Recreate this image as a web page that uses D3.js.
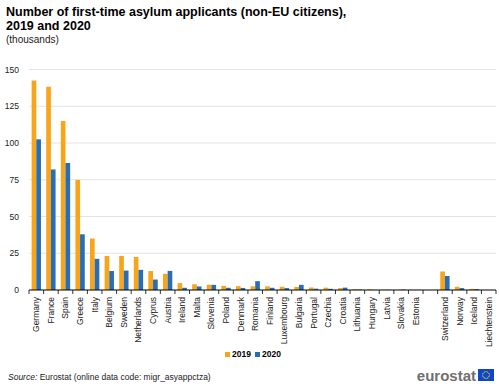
<!DOCTYPE html>
<html>
<head>
<meta charset="utf-8">
<script src="https://cdn.jsdelivr.net/npm/d3@7"></script>
<style>
  body { margin: 0; background: #fff; }
  svg { font-family: Arial, "Liberation Sans", sans-serif; }
</style>
</head>
<body>
<div id="chart"></div>
<script>
// Pays (vide = espace entre UE et AELE)
const countries = ["Germany", "France", "Spain", "Greece", "Italy", "Belgium", "Sweden", "Netherlands",
  "Cyprus", "Austria", "Ireland", "Malta", "Slovenia", "Poland", "Denmark", "Romania", "Finland",
  "Luxembourg", "Bulgaria", "Portugal", "Czechia", "Croatia", "Lithuania", "Hungary", "Latvia",
  "Slovakia", "Estonia", "", "Switzerland", "Norway", "Iceland", "Liechtenstein"];
const values2019 = [142.5, 138.3, 115.0, 74.9, 35.0, 23.1, 23.2, 22.5, 12.9, 11.0, 4.7, 3.9, 3.6, 2.8, 2.6,
  2.5, 2.5, 2.2, 2.1, 1.7, 1.6, 1.3, 0.6, 0.5, 0.2, 0.2, 0.1, null, 12.6, 2.2, 0.8, 0.05];
const values2020 = [102.5, 82.0, 86.4, 37.9, 21.2, 12.9, 13.2, 13.7, 7.1, 13.0, 1.5, 2.4, 3.5, 1.5, 1.4,
  6.0, 1.5, 1.3, 3.5, 0.9, 0.8, 1.6, 0.3, 0.1, 0.15, 0.3, 0.05, null, 9.5, 1.3, 0.6, 0.03];
const yTicks = [0, 25, 50, 75, 100, 125, 150];
const years = ["2019", "2020"];
const colors = ["#FAA519", "#286EB4"];

const W = 500, H = 386;
const margin = { top: 69.5, right: 4, bottom: 96, left: 29 };
const width = W - margin.left - margin.right;
const height = H - margin.top - margin.bottom;

const svg = d3.select("#chart").append("svg").attr("width", W).attr("height", H);

// Titre
svg.append("text").attr("x", 6).attr("y", 16).attr("font-size", 12.5).attr("font-weight", "bold")
  .text("Number of first-time asylum applicants (non-EU citizens),");
svg.append("text").attr("x", 6).attr("y", 30).attr("font-size", 12.5).attr("font-weight", "bold")
  .text("2019 and 2020");
svg.append("text").attr("x", 6).attr("y", 43).attr("font-size", 10).attr("fill", "#222")
  .text("(thousands)");

const g = svg.append("g").attr("transform", `translate(${margin.left},${margin.top})`);

const x = d3.scaleBand().domain(d3.range(countries.length)).range([0, width]).padding(0);
const xi = d3.scaleBand().domain(years).range([x.bandwidth() * 0.18, x.bandwidth() * 0.82]).padding(0);
const y = d3.scaleLinear().domain([0, 150]).range([height, 0]);

// Grille
g.append("g").selectAll("line").data(yTicks.slice(1)).join("line")
  .attr("x1", 0).attr("x2", width)
  .attr("y1", d => y(d)).attr("y2", d => y(d))
  .attr("stroke", "#dcdcdc").attr("stroke-width", 0.8);

// Axe Y
const yAxis = g.append("g").call(d3.axisLeft(y).tickValues(yTicks).tickSize(0).tickPadding(10));
yAxis.select(".domain").remove();
yAxis.selectAll("text").attr("font-size", 8.5).attr("fill", "#222").attr("font-family", "Arial, sans-serif");

// Barres
const series = [values2019, values2020];
series.forEach((vals, s) => {
  g.append("g").selectAll("rect").data(vals.map((v, i) => ({ v, i }))
    .filter(d => d.v !== null)).join("rect")
    .attr("x", d => x(d.i) + xi(years[s]))
    .attr("width", xi.bandwidth())
    .attr("y", d => y(d.v))
    .attr("height", d => height - y(d.v))
    .attr("fill", colors[s]);
});

// Axe X
const xAxis = g.append("g").attr("transform", `translate(0,${height})`);
xAxis.append("line").attr("x1", 0).attr("x2", width).attr("stroke", "#000").attr("stroke-width", 1);
xAxis.selectAll(".tick").data(d3.range(countries.length + 1)).join("line")
  .attr("x1", d => d * x.step()).attr("x2", d => d * x.step())
  .attr("y1", 0).attr("y2", 4).attr("stroke", "#000").attr("stroke-width", 0.8);
xAxis.selectAll(".lab").data(countries).join("text")
  .attr("transform", (d, i) => `translate(${x(i) + x.bandwidth() / 2 + 3},7) rotate(-90)`)
  .attr("text-anchor", "end").attr("font-size", 8.5).attr("fill", "#222")
  .text(d => d);

// Légende
const legend = svg.append("g").attr("transform", "translate(225,357)");
years.forEach((yr, i) => {
  const lx = i * 30;
  legend.append("rect").attr("x", lx).attr("y", -5).attr("width", 5).attr("height", 5).attr("fill", colors[i]);
  legend.append("text").attr("x", lx + 7).attr("y", 0).attr("font-size", 8.5).attr("font-weight", "bold")
    .text(yr);
});

// Source
const src = svg.append("text").attr("x", 8).attr("y", 380).attr("font-size", 8.5).attr("fill", "#222");
src.append("tspan").attr("font-style", "italic").text("Source:");
src.append("tspan").text(" Eurostat (online data code: migr_asyappctza)");

// Logo eurostat
svg.append("text").attr("x", 476).attr("y", 381).attr("text-anchor", "end").attr("font-size", 15)
  .attr("fill", "#707070").attr("font-weight", "bold").text("eurostat");
svg.append("rect").attr("x", 478).attr("y", 369).attr("width", 16).attr("height", 12).attr("fill", "#0E47CB");
const stars = svg.append("g");
d3.range(12).forEach(k => {
  const a = (k / 12) * 2 * Math.PI;
  stars.append("circle").attr("cx", 486 + 3.4 * Math.cos(a)).attr("cy", 375 + 3.4 * Math.sin(a))
    .attr("r", 0.6).attr("fill", "#FFDD00");
});
</script>
</body>
</html>
